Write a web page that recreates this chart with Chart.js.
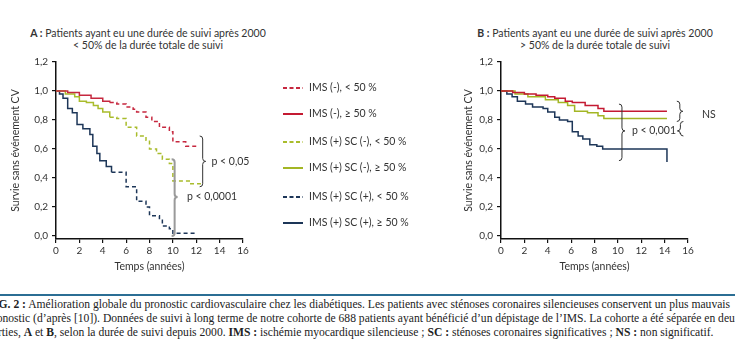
<!DOCTYPE html>
<html>
<head>
<meta charset="utf-8">
<script src="https://cdn.jsdelivr.net/npm/chart.js@4.4.1/dist/chart.umd.min.js"></script>
<style>
    body { margin: 0; width: 735px; height: 353px; overflow: hidden; background: #fff; position: relative; font-family: Lato, sans-serif; color: #333; }
    canvas { position: absolute; top: 0; }
    #chartA { left: 0; }
    #chartB { left: 440px; }
    .ttl { position: absolute; top: 28px; font-size: 10.5px; line-height: 11.5px; text-align: center; white-space: nowrap; }
    .rule { position: absolute; left: 0; top: 294px; width: 735px; height: 2px; background: #2b6e94; }
    .cap { position: absolute; left: -13px; top: 298px; font-family: "Liberation Serif", serif; font-size: 11.6px; line-height: 14px; color: #222; white-space: nowrap; }
</style>
</head>
<body>
<div class="ttl" style="left:0;width:296px"><b>A :</b> Patients ayant eu une durée de suivi après 2000<br>&lt; 50% de la durée totale de suivi</div>
<div class="ttl" style="left:445px;width:300px"><b>B :</b> Patients ayant eu une durée de suivi après 2000<br>&gt; 50% de la durée totale de suivi</div>

<canvas id="chartA" width="440" height="290"></canvas>
<canvas id="chartB" width="295" height="290"></canvas>

<div class="rule"></div>
<div class="cap">
    <div><b>FIG. 2 :</b> Amélioration globale du pronostic cardiovasculaire chez les diabétiques. Les patients avec sténoses coronaires silencieuses conservent un plus mauvais</div>
    <div>pronostic (d’après [10]). Données de suivi à long terme de notre cohorte de 688 patients ayant bénéficié d’un dépistage de l’IMS. La cohorte a été séparée en deux</div>
    <div>parties, <b>A</b> et <b>B</b>, selon la durée de suivi depuis 2000. <b>IMS :</b> ischémie myocardique silencieuse ; <b>SC :</b> sténoses coronaires significatives ; <b>NS :</b> non significatif.</div>
</div>

<script>
    const xTicks = [0, 2, 4, 6, 8, 10, 12, 14, 16];
    const yTicks = [0, 0.2, 0.4, 0.6, 0.8, 1.0, 1.2];

    const seriesLabels = ['IMS (-), < 50 %', 'IMS (-), ≥ 50 %', 'IMS (+) SC (-), < 50 %',
                          'IMS (+) SC (-), ≥ 50 %', 'IMS (+) SC (+), < 50 %', 'IMS (+) SC (+), ≥ 50 %'];

    // panel A : suivi apres 2000 < 50 %
    const aRedT   = [0, 1, 2, 3, 4, 4.6, 5.2, 6.0, 6.6, 6.9, 7.7, 8.2, 8.85, 9.7, 10.0, 11.1, 12.1];
    const aRedS   = [1.0, 0.99, 0.97, 0.95, 0.93, 0.92, 0.91, 0.89, 0.875, 0.855, 0.82, 0.79, 0.75, 0.72, 0.65, 0.62, 0.62];
    const aGreenT = [0, 0.8, 1.6, 2.0, 2.6, 3.2, 3.6, 4.0, 4.6, 5.2, 6.0, 6.9, 7.7, 8.0, 8.6, 9.1, 9.7, 10.0, 11.4, 12.4];
    const aGreenS = [1.0, 0.98, 0.96, 0.93, 0.92, 0.90, 0.88, 0.855, 0.82, 0.81, 0.75, 0.69, 0.66, 0.60, 0.57, 0.53, 0.50, 0.38, 0.36, 0.36];
    const aBlueT  = [0, 0.3, 0.6, 1.0, 1.4, 1.8, 2.3, 2.9, 3.15, 3.5, 3.75, 4.3, 4.75, 6.0, 6.9, 7.7, 8.0, 8.85, 9.1, 9.7, 10.0, 12.1];
    const aBlueS  = [1.0, 0.98, 0.95, 0.88, 0.85, 0.77, 0.74, 0.70, 0.62, 0.57, 0.52, 0.48, 0.44, 0.34, 0.24, 0.20, 0.14, 0.11, 0.07, 0.05, 0.02, 0.02];

    // panel B : suivi apres 2000 > 50 %
    const bRedT   = [0, 1, 2, 3, 4, 4.6, 5.5, 6.1, 7.2, 8.3, 8.8, 14.2];
    const bRedS   = [1.0, 0.99, 0.98, 0.97, 0.96, 0.95, 0.93, 0.92, 0.90, 0.88, 0.86, 0.86];
    const bGreenT = [0, 1.2, 2.3, 3.8, 4.9, 5.7, 6.3, 7.4, 8.3, 8.8, 14.2];
    const bGreenS = [1.0, 0.98, 0.96, 0.94, 0.92, 0.90, 0.86, 0.85, 0.83, 0.81, 0.81];
    const bBlueT  = [0, 0.5, 0.95, 1.4, 2.1, 2.7, 3.6, 4.0, 4.6, 5.0, 5.7, 6.1, 6.6, 7.0, 7.6, 8.2, 8.7, 14.2];
    const bBlueS  = [1.0, 0.98, 0.96, 0.93, 0.91, 0.89, 0.88, 0.855, 0.82, 0.80, 0.79, 0.72, 0.69, 0.67, 0.63, 0.62, 0.60, 0.51];

    const colors = ['#c6283f', '#c41a32', '#a9bc2c', '#a3b624', '#1d3658', '#1d3658'];
    const dashed = [true, false, true, false, true, false];
    const FONT = 'Lato';

    function pts(t, s) { return t.map((x, i) => ({ x: x, y: s[i] })); }

    function makeDs(i, t, s) {
        return {
            label: seriesLabels[i], data: pts(t, s), borderColor: colors[i], borderWidth: 1.5,
            pointRadius: 0, stepped: true, fill: false,
            segment: dashed[i] ? { borderDash: c => c.p0.parsed.x >= 4.5 ? [4, 3] : undefined } : undefined
        };
    }

    function brace(ctx, x, y1, y2, ym, dir, color, w) {
        const r = 3 * dir;
        ctx.save();
        ctx.strokeStyle = color; ctx.lineWidth = w;
        ctx.beginPath();
        ctx.moveTo(x - r, y1);
        ctx.quadraticCurveTo(x, y1, x, y1 + 3);
        ctx.lineTo(x, ym - 3);
        ctx.quadraticCurveTo(x, ym, x + r, ym);
        ctx.quadraticCurveTo(x, ym, x, ym + 3);
        ctx.lineTo(x, y2 - 3);
        ctx.quadraticCurveTo(x, y2, x - r, y2);
        ctx.stroke();
        ctx.restore();
    }

    const kmNotes = {
        id: 'kmNotes',
        afterDatasetsDraw(chart, args, opts) {
            const ctx = chart.ctx, sx = chart.scales.x, sy = chart.scales.y;
            (opts.braces || []).forEach(b => {
                brace(ctx, sx.getPixelForValue(b.t), sy.getPixelForValue(b.top), sy.getPixelForValue(b.bot),
                      sy.getPixelForValue(b.mid), b.dir, b.color, b.width);
            });
            ctx.save();
            ctx.fillStyle = '#333'; ctx.font = '10.5px ' + FONT;
            ctx.textAlign = 'left'; ctx.textBaseline = 'middle';
            (opts.labels || []).forEach(l => {
                ctx.fillText(l.text, sx.getPixelForValue(l.t), sy.getPixelForValue(l.v));
            });
            ctx.restore();
        }
    };

    const kmLegend = {
        id: 'kmLegend',
        afterDraw(chart, args, opts) {
            if (!opts.rows) return;
            const ctx = chart.ctx;
            ctx.save();
            seriesLabels.forEach((txt, i) => {
                const y = opts.rows[i];
                ctx.strokeStyle = colors[i]; ctx.lineWidth = 2;
                ctx.setLineDash(dashed[i] ? [4, 2.5] : []);
                ctx.beginPath(); ctx.moveTo(283, y); ctx.lineTo(303, y); ctx.stroke();
                ctx.setLineDash([]);
                ctx.fillStyle = '#333'; ctx.font = '10.5px ' + FONT;
                ctx.textBaseline = 'middle'; ctx.textAlign = 'left';
                ctx.fillText(txt, 309, y);
            });
            ctx.restore();
        }
    };

    function scales(yWidth, yTitlePad) {
        return {
            x: {
                type: 'linear', min: 0, max: 16,
                afterBuildTicks: s => { s.ticks = xTicks.map(v => ({ value: v })); },
                afterFit: s => { s.height = 51; },
                grid: { drawOnChartArea: false, drawTicks: true, tickLength: 4, color: '#111', lineWidth: 1.2 },
                border: { color: '#111', width: 1.5 },
                ticks: { color: '#333', font: { family: FONT, size: 10 }, padding: 2, maxRotation: 0, callback: v => String(v) },
                title: { display: true, text: 'Temps (années)', color: '#333', font: { family: FONT, size: 10.5 }, padding: { top: 0, bottom: 17 } }
            },
            y: {
                min: -0.02, max: 1.2,
                afterBuildTicks: s => { s.ticks = yTicks.map(v => ({ value: v })); },
                afterFit: s => { s.width = yWidth; },
                grid: { drawOnChartArea: false, drawTicks: true, tickLength: 4, color: '#111', lineWidth: 1.2 },
                border: { color: '#111', width: 1.5 },
                ticks: { color: '#333', font: { family: FONT, size: 10 }, padding: 4, callback: v => v.toFixed(1).replace('.', ',') },
                title: { display: true, text: 'Survie sans événement CV', color: '#333', font: { family: FONT, size: 10.5 }, padding: { top: yTitlePad, bottom: 0 } }
            }
        };
    }

    const baseOpts = {
        responsive: false, animation: false, devicePixelRatio: 1,
        plugins: { legend: { display: false }, tooltip: { enabled: false } }
    };

    new Chart(document.getElementById('chartA').getContext('2d'), {
        type: 'line',
        data: { datasets: [makeDs(0, aRedT, aRedS), makeDs(2, aGreenT, aGreenS), makeDs(4, aBlueT, aBlueS)] },
        options: Object.assign({}, baseOpts, {
            layout: { padding: { left: 0, top: 62, right: 197, bottom: 0 } },
            scales: scales(56, 9),
            plugins: {
                legend: { display: false }, tooltip: { enabled: false },
                kmLegend: { rows: [88, 114, 142, 168, 197, 223] },
                kmNotes: {
                    braces: [
                        { t: 12.55, top: 0.69, bot: 0.34, mid: 0.515, dir: 1, color: '#333', width: 1 },
                        { t: 10.15, top: 0.53, bot: 0.0, mid: 0.27, dir: 1, color: '#9a9a9a', width: 2 }
                    ],
                    labels: [
                        { text: 'p < 0,05', t: 13.3, v: 0.515 },
                        { text: 'p < 0,0001', t: 11.2, v: 0.27 }
                    ]
                }
            }
        }),
        plugins: [kmLegend, kmNotes]
    });

    new Chart(document.getElementById('chartB').getContext('2d'), {
        type: 'line',
        data: { datasets: [makeDs(1, bRedT, bRedS), makeDs(3, bGreenT, bGreenS), makeDs(5, bBlueT, bBlueS)] },
        options: Object.assign({}, baseOpts, {
            layout: { padding: { left: 0, top: 62, right: 47, bottom: 0 } },
            scales: scales(61, 22),
            plugins: {
                legend: { display: false }, tooltip: { enabled: false },
                kmNotes: {
                    braces: [
                        { t: 10.35, top: 0.91, bot: 0.52, mid: 0.725, dir: 1, color: '#333', width: 1 },
                        { t: 15.3, top: 0.93, bot: 0.79, mid: 0.86, dir: 1, color: '#333', width: 1 },
                        { t: 15.35, top: 0.79, bot: 0.69, mid: 0.725, dir: -1, color: '#333', width: 1 }
                    ],
                    labels: [
                        { text: 'p < 0,001', t: 11.2, v: 0.725 },
                        { text: 'NS', t: 17.2, v: 0.835 }
                    ]
                }
            }
        }),
        plugins: [kmNotes]
    });
</script>
</body>
</html>
